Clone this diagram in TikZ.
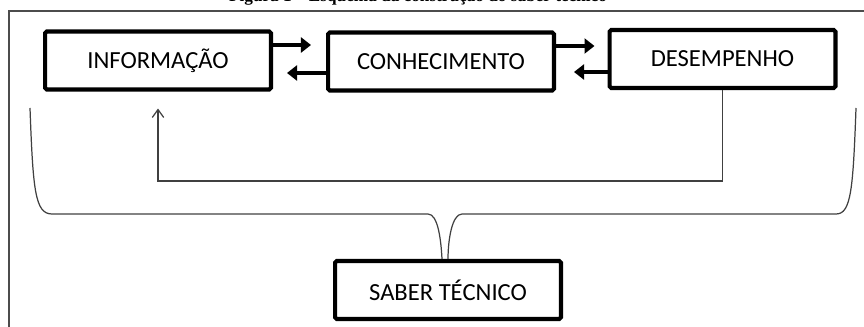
\documentclass[tikz,border=0pt]{standalone}
\usepackage{fontspec}
\newfontfamily\boxfont{Carlito}
\newfontfamily\capfont{Liberation Serif}
\usepackage{tikz}
\usetikzlibrary{calc}
\usetikzlibrary {arrows.meta}

\begin{document}
\begin{tikzpicture}[x=0.02cm, y=-0.02cm,
        stagebox/.style={draw, line width=2.3pt, rounded corners=1pt, minimum width=4.52cm,
            minimum height=1.16cm, inner sep=0pt, font=\boxfont\fontsize{14}{16}\selectfont},
        fatarrow/.style={line width=2.8pt, -{Triangle[length=5.7pt, width=8.5pt]}},
        backline/.style={draw=black!75, line width=0.7pt, -{Straight Barb[length=4.5pt, width=6.5pt]}},
        braceline/.style={draw=black!75, line width=0.7pt},
        frameline/.style={draw=black!70, line width=0.8pt},
        caption/.style={font=\capfont\bfseries\fontsize{9.8}{12}\selectfont, inner sep=0pt}]
        \useasboundingbox (0,0) rectangle (864,327);

        % Frame and title (cut at the top)
        \draw[frameline] (9,340) |- (880,11);
        \node[caption, anchor=south] (cap) at (418,5.5) {Figura 1 – Esquema da construção do saber técnico};

        % Stages
        \node[stagebox] (info) at (158,60.5) {INFORMAÇÃO};
        \node[stagebox] (conh) at (441,61.5) {CONHECIMENTO};
        \node[stagebox] (desem) at (722.5,59) {DESEMPENHO};
        \node[stagebox] (saber) at (448,290) {SABER TÉCNICO};

        % Arrows between stages
        \coordinate (i1) at ([yshift=0.31cm]info.east);
        \coordinate (c1) at ([yshift=-0.23cm]conh.west);
        \coordinate (c2) at ([yshift=0.31cm]conh.east);
        \coordinate (d1) at ([yshift=-0.26cm]desem.west);
        \draw[fatarrow, shorten >=0.3cm] (i1) -- (i1 -| conh.west);
        \draw[fatarrow, shorten >=0.28cm] (c1) -- (c1 -| info.east);
        \draw[fatarrow, shorten >=0.26cm] (c2) -- (c2 -| desem.west);
        \draw[fatarrow, shorten >=0.36cm] (d1) -- (d1 -| conh.east);

        % Feedback
        \draw[backline] (desem.south) -- ++(0,91) -| ([yshift=-0.34cm]info.south);

        % Brace
        \coordinate (bl) at (30,108);
        \coordinate (br) at (856,108);
        \draw[braceline] (bl) .. controls (33,190) and (35,214) .. (52,214) -- (428,214)
            .. controls (438,214) and (441,240) .. ([xshift=-0.12cm]saber.north);
        \draw[braceline] (br) .. controls (853,190) and (851,214) .. (836,214) -- (462,214)
            .. controls (452,214) and (448,240) .. (saber.north);
    \end{tikzpicture}
\end{document}
